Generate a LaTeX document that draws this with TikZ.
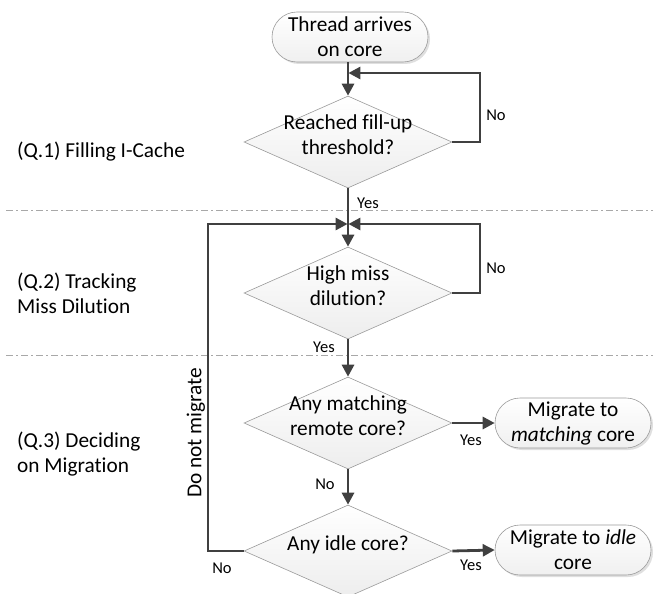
\documentclass[tikz,border=0pt]{standalone}
\usepackage{fontspec}
\setmainfont{Carlito}[Ligatures=NoCommon]
\usetikzlibrary{shapes.geometric,shapes.misc,arrows.meta,shadows}
\definecolor{lineC}{HTML}{404040}
\definecolor{borderC}{HTML}{9A9A9A}
\definecolor{sepC}{HTML}{A8A8A8}
\newcommand{\mainfs}{\fontsize{21.3pt}{25pt}\selectfont}
\newcommand{\lblfs}{\fontsize{16.5pt}{19pt}\selectfont}
\newcommand{\dtext}[1]{\smash{\makebox[0pt]{\begin{tabular}{@{}c@{}}#1\end{tabular}}}}
\tikzset{
  decision/.style={diamond, draw=borderC, line width=0.6pt, top color=white, bottom color=gray!14,
    minimum width=208pt, minimum height=92pt, inner sep=0pt, font=\mainfs},
  terminal/.style={rounded rectangle, draw=borderC, line width=0.6pt, top color=white, bottom color=gray!12,
    minimum width=156pt, minimum height=50pt, inner sep=0pt, align=center, font=\mainfs,
    drop shadow={opacity=0.25, shadow xshift=2pt, shadow yshift=-2pt}},
  flow/.style={draw=lineC, line width=2.8pt, -{Triangle[length=12pt,width=12pt]}},
  sep/.style={draw=sepC, line width=0.8pt, dash pattern=on 7pt off 3pt on 2pt off 3pt},
  section/.style={anchor=west, align=left, font=\mainfs, inner sep=0pt},
  lbl/.style={font=\lblfs, inner sep=0pt},
}
\begin{document}
\begin{tikzpicture}[x=1pt,y=-1pt]
\useasboundingbox (0,0) rectangle (653,594);

% separators
\coordinate (s1a) at (6,210); \coordinate (s1b) at (653,210);
\coordinate (s2a) at (6,355); \coordinate (s2b) at (653,355);
\draw[sep] (s1a) -- (s1b);
\draw[sep] (s2a) -- (s2b);

% section labels
\node[section] (q1) at (17,152) {(Q.1) Filling I-Cache};
\node[section] (q2) at (17,293) {(Q.2) Tracking\\Miss Dilution};
\node[section] (q3) at (17,454) {(Q.3) Deciding\\on Migration};

% nodes
\node[terminal] (start) at (350,37) {Thread arrives\\on core};
\node[decision] (d1) at (348,142) {\dtext{Reached fill-up\\threshold?}};
\node[decision] (d2) at (348,293) {\dtext{High miss\\dilution?}};
\node[decision] (d3) at (348,423) {\dtext{Any matching\\remote core?}};
\node[decision] (d4) at (348,551) {\dtext{Any idle core?}};
\node[terminal] (e1) at (573,423) {Migrate to\\\textit{matching} core};
\node[terminal] (e2) at (573,550) {Migrate to \textit{idle}\\core};

% junction coordinates
\coordinate (j1) at (348,73);
\coordinate (j2) at (348,224);
\coordinate (r1) at (480,142);
\coordinate (r2) at (480,293);
\coordinate (l4) at (208,551);

% main flow
\draw[flow] (start.south -| d1.north) -- (d1.north);
\draw[flow] (d1.south) -- (d2.north);
\draw[flow] (d2.south) -- (d3.north);
\draw[flow] (d3.south) -- (d4.north);
\draw[flow] (d3.east) -- (e1.west);
\draw[flow] (d4.east) -- (e2.west);

% loops
\draw[flow, shorten >=-1pt] (d1.east) -- (r1) |- ([xshift=1.4pt]j1);
\draw[flow, shorten >=-1pt] (d2.east) -- (r2) |- ([xshift=1.4pt]j2);
\draw[flow, shorten >=-1pt] (d4.west) -- (l4) |- ([xshift=-1.4pt]j2);

% labels
\node[lbl] (y1) at (368,203) {Yes};
\node[lbl] (n1) at (496,115) {No};
\node[lbl] (n2) at (496,268) {No};
\node[lbl] (y2) at (324,347) {Yes};
\node[lbl] (n3) at (325,484) {No};
\node[lbl] (y3) at (471,440) {Yes};
\node[lbl] (y4) at (471,565) {Yes};
\node[lbl] (n4) at (222,568) {No};
\node[font=\mainfs, rotate=90, inner sep=0pt] (dnm) at (196,433) {Do not migrate};
\end{tikzpicture}
\end{document}
